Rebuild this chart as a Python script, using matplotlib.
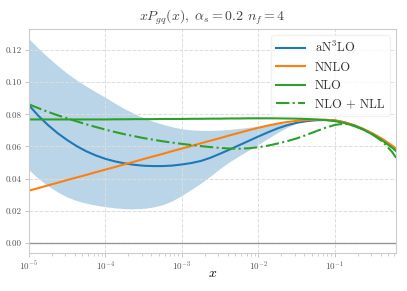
import matplotlib
matplotlib.use("Agg")
import matplotlib.pyplot as plt
import numpy as np
from matplotlib.ticker import LogLocator, LogFormatterSciNotation, FormatStrFormatter

plt.rcParams['font.family'] = ['cmr10', 'DejaVu Serif']
plt.rcParams['mathtext.fontset'] = 'cm'
plt.rcParams['axes.formatter.use_mathtext'] = True
plt.rcParams['axes.unicode_minus'] = False

# values (x given as log10 x)
logx = [-5.0, -4.875, -4.75, -4.625, -4.5, -4.375, -4.25, -4.125,
        -4.0, -3.875, -3.75, -3.625, -3.5, -3.375, -3.25, -3.125,
        -3.0, -2.875, -2.75, -2.625, -2.5, -2.375, -2.25, -2.125,
        -2.0, -1.875, -1.75, -1.625, -1.5, -1.375, -1.25, -1.125,
        -1.0, -0.875, -0.75, -0.625, -0.5, -0.375, -0.25, -0.2]

an3lo = [.0857, .0790, .0733, .0683, .0640, .0602, .0570, .0544,
         .0523, .0507, .0495, .0486, .0480, .0478, .0478, .0481,
         .0488, .0497, .0510, .0530, .0555, .0581, .0608, .0635,
         .0662, .0688, .0712, .0732, .0747, .0757, .0763, .0765,
         .0762, .0750, .0731, .0706, .0676, .0640, .0597, .0578]
nnlo = [.0325, .0341, .0358, .0374, .0391, .0407, .0423, .0440,
        .0456, .0472, .0489, .0505, .0522, .0538, .0554, .0571,
        .0587, .0603, .0620, .0636, .0652, .0669, .0685, .0701,
        .0716, .0730, .0742, .0752, .0759, .0764, .0766, .0766,
        .0762, .0751, .0733, .0709, .0680, .0646, .0605, .0586]
nlo = [.0768, .0768, .0768, .0768, .0768, .0768, .0768, .0768,
       .0768, .0769, .0769, .0770, .0770, .0770, .0771, .0771,
       .0771, .0772, .0772, .0773, .0773, .0774, .0774, .0775,
       .0775, .0775, .0775, .0774, .0773, .0771, .0768, .0764,
       .0758, .0746, .0728, .0704, .0673, .0636, .0592, .0571]
nlo_nll = [.0862, .0838, .0815, .0794, .0775, .0756, .0738, .0721,
           .0705, .0690, .0676, .0664, .0652, .0642, .0632, .0624,
           .0616, .0609, .0602, .0596, .0591, .0587, .0586, .0589,
           .0595, .0605, .0618, .0633, .0650, .0671, .0694, .0716,
           .0734, .0742, .0730, .0705, .0672, .0630, .0565, .0530]

# aN3LO uncertainty band, closes up around x ~ 0.03
band_hi = [.1270, .1210, .1155, .1103, .1055, .1013, .0975, .0939,
           .0905, .0869, .0835, .0805, .0778, .0756, .0738, .0722,
           .0710, .0703, .0700, .0700, .0702, .0706, .0712, .0719,
           .0727, .0735, .0742, .0747, .0750]
band_lo = [.0455, .0400, .0355, .0317, .0285, .0263, .0247, .0235,
           .0225, .0218, .0213, .0212, .0215, .0223, .0238, .0262,
           .0295, .0333, .0372, .0416, .0463, .0505, .0542, .0577,
           .0612, .0650, .0686, .0718, .0745]

x = 10.0 ** np.array(logx)
x_band = x[:len(band_hi)]

fig = plt.figure(figsize=(4.07, 2.91), dpi=100)
ax = fig.add_axes([0.071, 0.131, 0.902, 0.769])

ax.fill_between(x_band, band_lo, band_hi, color='tab:blue', alpha=0.3, lw=0)
ax.plot(x, an3lo, color='tab:blue', lw=1.5, label=r'aN$^3$LO')
ax.plot(x, nnlo, color='tab:orange', lw=1.5, label='NNLO')
ax.plot(x, nlo, color='tab:green', lw=1.5, label='NLO')
ax.plot(x, nlo_nll, color='tab:green', lw=1.5, ls='-.', label='NLO + NLL')
ax.axhline(0, color='gray', lw=1.0, alpha=0.8)

ax.set_xscale('log')
ax.set_xlim(1e-5, 0.63)
ax.set_ylim(-0.0062, 0.133)
ax.xaxis.set_major_locator(LogLocator(base=10, numticks=10))
ax.xaxis.set_minor_locator(LogLocator(base=10, subs=np.arange(2, 10), numticks=10))
ax.xaxis.set_major_formatter(LogFormatterSciNotation())
ax.set_yticks([0.0, 0.02, 0.04, 0.06, 0.08, 0.10, 0.12])
ax.yaxis.set_major_formatter(FormatStrFormatter('%.2f'))

ax.grid(True, which='major', ls='--', color='#dddddd', lw=0.7)
for s in ax.spines.values():
    s.set_color('#cccccc')
ax.tick_params(axis='both', which='both', direction='out', colors='#bbbbbb',
               labelcolor='#555555', labelsize=6.5, pad=2)
ax.tick_params(axis='both', which='major', length=3, width=0.6)
ax.tick_params(axis='x', which='minor', length=1.8, width=0.5)

ax.set_xlabel(r'$x$', fontsize=10, labelpad=-4)
ax.set_title(r'$xP_{gq}(x),\ \alpha_s=$0.2 $n_f=$4', fontsize=10, color='#444444', pad=6)

leg = ax.legend(loc='upper right', fontsize=9, labelspacing=0.5, handlelength=2.3,
                frameon=True, framealpha=0.8, edgecolor='#eeeeee', fancybox=True)
for t in leg.get_texts():
    t.set_color('#333333')

fig.savefig('out.png', dpi=100)
